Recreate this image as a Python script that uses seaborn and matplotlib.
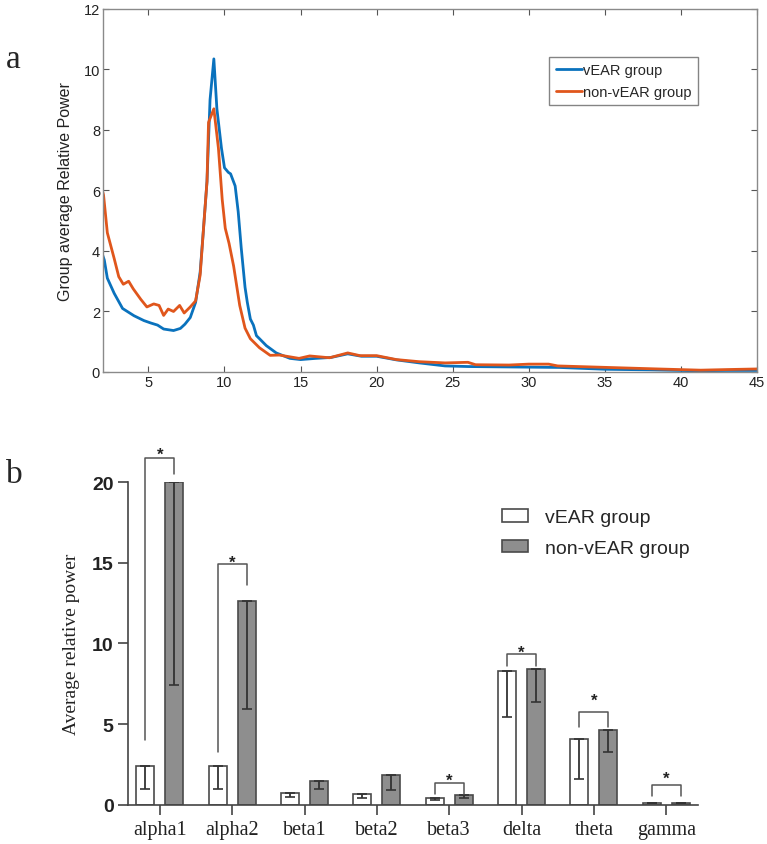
import matplotlib
matplotlib.use("Agg")
import matplotlib.pyplot as plt
import numpy as np
import pandas as pd
import seaborn as sns

# ---- panel a: spectra ----
FREQ_VEAR = [2.0, 2.1, 2.3, 2.75, 3.3, 4.05, 4.7, 5.15, 5.6, 6.0, 6.65, 7.1, 7.4, 7.75,
             8.1, 8.4, 8.6, 8.85, 9.05, 9.3, 9.5, 9.8, 10.0, 10.25, 10.4, 10.7, 10.9,
             11.1, 11.35, 11.5, 11.7, 11.9, 12.1, 12.3, 12.75, 13.4, 14.3, 15.0, 16.0,
             17.0, 18.1, 19.0, 20.0, 21.3, 22.8, 24.5, 26.0, 28.0, 30.0, 32.0, 35.0,
             38.0, 41.0, 43.0, 45.0]
POWER_VEAR = [3.85, 3.7, 3.1, 2.6, 2.1, 1.86, 1.7, 1.62, 1.55, 1.42, 1.37, 1.44, 1.58, 1.8,
              2.3, 3.3, 4.6, 6.3, 9.0, 10.35, 8.7, 7.4, 6.75, 6.6, 6.55, 6.15, 5.3,
              4.1, 2.8, 2.3, 1.75, 1.55, 1.2, 1.1, 0.87, 0.63, 0.45, 0.41, 0.45,
              0.48, 0.6, 0.52, 0.52, 0.4, 0.3, 0.2, 0.18, 0.17, 0.16, 0.15, 0.09,
              0.07, 0.04, 0.05, 0.05]
FREQ_NON = [2.0, 2.05, 2.3, 2.75, 3.05, 3.35, 3.7, 4.0, 4.5, 4.9, 5.35, 5.7, 6.0, 6.3,
            6.65, 7.05, 7.35, 7.75, 8.1, 8.4, 8.6, 8.85, 8.95, 9.3, 9.6, 9.85, 10.05,
            10.3, 10.6, 11.0, 11.35, 11.7, 12.3, 13.0, 13.6, 14.9, 15.6, 16.9, 18.1,
            18.9, 20.0, 21.3, 22.8, 24.5, 26.0, 26.5, 28.7, 30.0, 31.3, 31.9, 35.2,
            38.5, 41.3, 43.0, 45.0]
POWER_NON = [5.95, 5.85, 4.6, 3.75, 3.15, 2.9, 3.0, 2.75, 2.4, 2.15, 2.25, 2.2, 1.87, 2.08,
             2.0, 2.2, 1.95, 2.15, 2.35, 3.2, 4.6, 6.3, 8.25, 8.7, 7.4, 5.7, 4.75,
             4.25, 3.5, 2.2, 1.45, 1.1, 0.8, 0.55, 0.56, 0.45, 0.53, 0.47, 0.63,
             0.54, 0.54, 0.41, 0.34, 0.3, 0.32, 0.24, 0.23, 0.26, 0.26, 0.2, 0.15,
             0.1, 0.06, 0.08, 0.1]

# ---- panel b: band averages ----
BANDS = ["alpha1", "alpha2", "beta1", "beta2", "beta3", "delta", "theta", "gamma"]
GROUPS = ["vEAR group", "non-vEAR group"]
MEAN_VEAR = [2.4, 2.4, 0.72, 0.65, 0.43, 8.3, 4.1, 0.15]
MEAN_NON = [20.0, 12.6, 1.5, 1.85, 0.64, 8.4, 4.65, 0.15]
LOW_VEAR = [1.0, 1.0, 0.5, 0.45, 0.32, 5.45, 1.6, 0.1]
LOW_NON = [7.4, 5.95, 1.0, 0.95, 0.45, 6.4, 3.3, 0.1]
# significance brackets: left leg bottom, right leg bottom, bracket top, star centre
SIG_BANDS = ["alpha1", "alpha2", "beta3", "delta", "theta", "gamma"]
SIG_LEFT = [4.0, 3.3, 0.7, 8.6, 4.8, 0.55]
SIG_RIGHT = [20.5, 13.6, 0.7, 8.6, 4.8, 0.55]
SIG_TOP = [21.5, 14.9, 1.35, 9.35, 5.75, 1.25]
SIG_STAR = [21.9, 15.2, 1.7, 9.65, 6.7, 1.85]

BLUE = "#0a72bd"
ORANGE = "#e0561c"
SANS = ["Liberation Sans", "DejaVu Sans"]
SERIF = ["Liberation Serif", "DejaVu Serif"]

sns.set_theme(style="ticks")
plt.rcParams["font.family"] = SANS

fig = plt.figure(figsize=(7.67, 8.45), dpi=100)

# ---------------- panel a ----------------
ax1 = fig.add_axes([0.134, 0.5586, 0.853, 0.4296])
sns.lineplot(x=FREQ_VEAR, y=POWER_VEAR, ax=ax1, color=BLUE, lw=2.0, label="vEAR group")
sns.lineplot(x=FREQ_NON, y=POWER_NON, ax=ax1, color=ORANGE, lw=2.0, label="non-vEAR group")
ax1.set_xlim(2, 45)
ax1.set_ylim(0, 12)
ax1.set_xticks(range(5, 46, 5))
ax1.set_yticks(range(0, 13, 2))
ax1.tick_params(direction="in", top=True, right=True, length=4, width=0.8,
                color="#555555", labelsize=10.5, labelcolor="#222222", pad=2)
for sp in ax1.spines.values():
    sp.set_color("#8a8a8a")
    sp.set_linewidth(1.0)
ax1.set_ylabel("Group average Relative Power", fontsize=11.5, color="#222222")
ax1.yaxis.set_label_coords(-0.045, 0.5)
leg1 = ax1.legend(loc="upper left", bbox_to_anchor=(0.682, 0.868), borderaxespad=0,
                  fontsize=10.5, handlelength=1.8, handletextpad=0.1, frameon=True,
                  fancybox=False, edgecolor="#666666", borderpad=0.45, labelspacing=0.5)
leg1.get_frame().set_linewidth(1.0)

# ---------------- panel b ----------------
df = pd.DataFrame({
    "band": BANDS * 2,
    "group": [GROUPS[0]] * len(BANDS) + [GROUPS[1]] * len(BANDS),
    "power": MEAN_VEAR + MEAN_NON,
})
ax2 = fig.add_axes([0.167, 0.0462, 0.743, 0.3822])
sns.barplot(data=df, x="band", y="power", hue="group", order=BANDS, hue_order=GROUPS,
            palette=["white", "#8e8e8e"], gap=0.38, width=0.8, errorbar=None,
            edgecolor="#4a4a4a", linewidth=1.2, ax=ax2)

lows = [LOW_VEAR, LOW_NON]
centers = {}
bar_containers = list(ax2.containers)
for gi, cont in enumerate(bar_containers):
    xs, tops = [], []
    for bi, patch in enumerate(cont.patches):
        xc = patch.get_x() + patch.get_width() / 2
        xs.append(xc)
        tops.append(patch.get_height())
        centers[(gi, BANDS[bi])] = xc
    tops = np.array(tops)
    lo = tops - np.array(lows[gi])
    ax2.errorbar(xs, tops, yerr=[lo, np.zeros_like(lo)], fmt="none",
                 ecolor="#333333", elinewidth=1.3, capsize=3.5, capthick=1.2)

for band, yl, yr, yt, ys in zip(SIG_BANDS, SIG_LEFT, SIG_RIGHT, SIG_TOP, SIG_STAR):
    x0, x1 = centers[(0, band)], centers[(1, band)]
    ax2.plot([x0, x0, x1, x1], [yl, yt, yt, yr], color="#555555", lw=1.1, clip_on=False)
    ax2.annotate("*", xy=((x0 + x1) / 2, ys), xytext=(0, -5.5), textcoords="offset points",
                 ha="center", va="baseline", fontsize=12, fontweight="bold",
                 color="#222222", annotation_clip=False)

ax2.set_xlim(-0.44, 7.44)
ax2.set_ylim(0, 20)
ax2.set_yticks([0, 5, 10, 15, 20])
sns.despine(ax=ax2)
for sp in ["left", "bottom"]:
    ax2.spines[sp].set_color("#444444")
    ax2.spines[sp].set_linewidth(1.2)
ax2.tick_params(axis="both", direction="out", length=7, width=1.2, color="#444444")
for lab in ax2.get_yticklabels():
    lab.set_fontweight("bold")
    lab.set_fontsize(14)
    lab.set_color("#222222")
for lab in ax2.get_xticklabels():
    lab.set_family(SERIF)
    lab.set_fontsize(14.5)
    lab.set_color("#222222")
ax2.set_xlabel("")
ax2.set_ylabel("Average relative power", family=SERIF, fontsize=14, color="#222222")
ax2.yaxis.set_label_coords(-0.085, 0.5)
sns.move_legend(ax2, "upper left", bbox_to_anchor=(0.642, 0.94), borderaxespad=0,
                frameon=False, title=None, fontsize=14, handlelength=1.35,
                handleheight=0.6, handletextpad=0.9, labelspacing=0.7)

fig.text(0.008, 0.929, "a", family=SERIF, fontsize=24, va="center", ha="left")
fig.text(0.008, 0.438, "b", family=SERIF, fontsize=24, va="center", ha="left")

fig.savefig("out.png", dpi=100)
